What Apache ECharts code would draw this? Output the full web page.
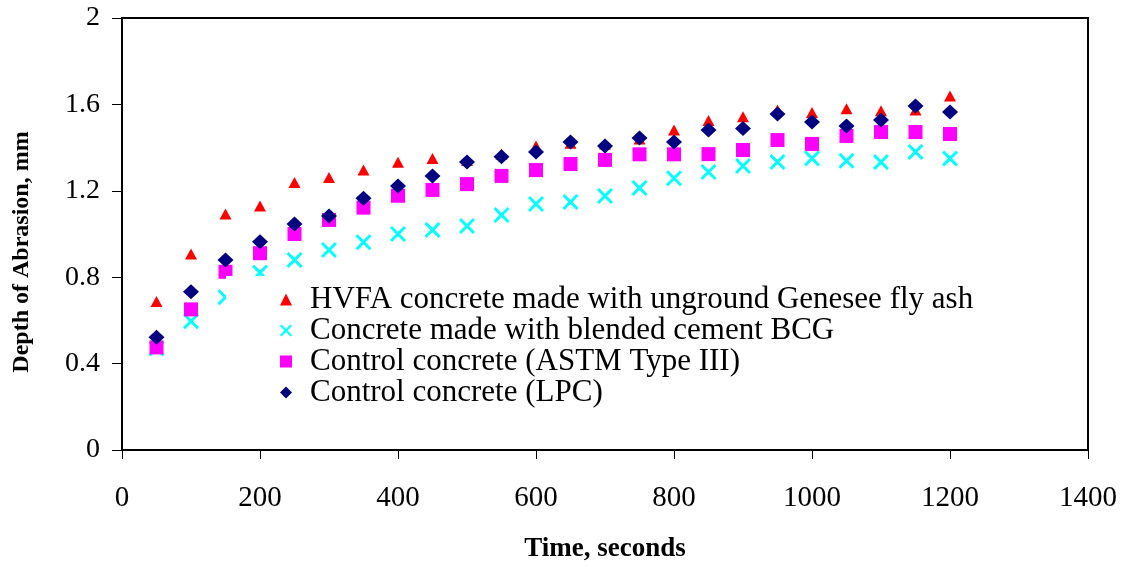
<!DOCTYPE html>
<html>
<head>
<meta charset="utf-8">
<script src="https://cdn.jsdelivr.net/npm/echarts@6/dist/echarts.min.js"></script>
<style>
  html, body { margin: 0; padding: 0; background: #fff; }
  #chart { width: 1128px; height: 567px; }
</style>
</head>
<body>
<div id="chart"></div>
<script>
// time (s)
const times = [50, 100, 150, 200, 250, 300, 350, 400, 450, 500, 550, 600,
               650, 700, 750, 800, 850, 900, 950, 1000, 1050, 1100, 1150, 1200];

// depth of abrasion, mm
const hvfa = [0.687, 0.907, 1.093, 1.130, 1.239, 1.261, 1.296, 1.332, 1.350, 1.340, 1.370, 1.407,
              1.420, 1.417, 1.440, 1.481, 1.525, 1.543, 1.574, 1.562, 1.580, 1.571, 1.574, 1.639];
const bcg = [0.470, 0.596, 0.707, 0.821, 0.880, 0.926, 0.962, 1.000, 1.019, 1.037, 1.088, 1.139,
             1.148, 1.176, 1.213, 1.258, 1.287, 1.315, 1.333, 1.350, 1.339, 1.333, 1.380, 1.349];
const astm3 = [0.475, 0.651, 0.825, 0.911, 1.000, 1.065, 1.122, 1.177, 1.204, 1.231, 1.269, 1.296,
               1.324, 1.343, 1.369, 1.369, 1.370, 1.389, 1.435, 1.417, 1.454, 1.472, 1.472, 1.463];
const lpc = [0.522, 0.733, 0.880, 0.964, 1.046, 1.083, 1.165, 1.222, 1.269, 1.333, 1.358, 1.380,
             1.426, 1.407, 1.444, 1.426, 1.481, 1.489, 1.556, 1.519, 1.500, 1.528, 1.593, 1.565];

const seriesNames = [
  'HVFA concrete made with unground Genesee fly ash',
  'Concrete made with blended cement BCG',
  'Control concrete (ASTM Type III)',
  'Control concrete (LPC)'
];

const pairs = ys => times.map((t, i) => [t, ys[i]]);
const crossPath = 'path://M0,1.3 L1.3,0 L5,3.7 L8.7,0 L10,1.3 L6.3,5 L10,8.7 L8.7,10 L5,6.3 L1.3,10 L0,8.7 L3.7,5 Z';
const serif = '"Liberation Serif", "Times New Roman", serif';

const chart = echarts.init(document.getElementById('chart'));

const option = {
  backgroundColor: '#fff',
  animation: false,
  grid: {
    left: 122, right: 40, top: 18, bottom: 117,
    outerBoundsMode: 'none',
    show: true, borderColor: '#000', borderWidth: 2
  },
  legend: {
    orient: 'vertical',
    left: 226, top: 276,
    padding: [8, 10, 6, 54],
    backgroundColor: '#fff',
    itemWidth: 12, itemHeight: 12, itemGap: 0,
    data: [
      { name: seriesNames[0], itemStyle: { color: '#ff0000' } },
      { name: seriesNames[1], itemStyle: { color: '#00ffff' } },
      { name: seriesNames[2], itemStyle: { color: '#ff00ff' } },
      { name: seriesNames[3], itemStyle: { color: '#000080' } }
    ],
    textStyle: { fontFamily: serif, fontSize: 31, color: '#000', padding: [0, 0, 0, 13] }
  },
  xAxis: {
    type: 'value', min: 0, max: 1400, interval: 200,
    name: 'Time, seconds', nameLocation: 'middle', nameGap: 86,
    nameTextStyle: { fontFamily: serif, fontSize: 27, fontWeight: 'bold', color: '#000' },
    axisLine: { show: true, lineStyle: { color: '#000', width: 2 } },
    axisTick: { show: true, length: 9, lineStyle: { color: '#000', width: 1 } },
    axisLabel: { margin: 34, fontFamily: serif, fontSize: 29, color: '#000',
                 formatter: v => String(v) },
    splitLine: { show: false }
  },
  yAxis: {
    type: 'value', min: 0, max: 2, interval: 0.4,
    name: 'Depth of Abrasion, mm', nameLocation: 'middle', nameGap: 88, nameRotate: 90,
    nameTextStyle: { fontFamily: serif, fontSize: 24, fontWeight: 'bold', color: '#000', padding: [0, 36, 0, 0] },
    axisLine: { show: true, lineStyle: { color: '#000', width: 2 } },
    axisTick: { show: true, length: 10, lineStyle: { color: '#000', width: 1 } },
    axisLabel: { margin: 22, fontFamily: serif, fontSize: 28, color: '#000',
                 formatter: v => String(Math.round(v * 10) / 10) },
    splitLine: { show: false }
  },
  series: [
    { name: seriesNames[0], type: 'scatter', data: pairs(hvfa),
      symbol: 'triangle', symbolSize: [12, 11], itemStyle: { color: '#ff0000', opacity: 1 } },
    { name: seriesNames[1], type: 'scatter', data: pairs(bcg),
      symbol: crossPath, symbolSize: 16, itemStyle: { color: '#00ffff', opacity: 1 } },
    { name: seriesNames[2], type: 'scatter', data: pairs(astm3),
      symbol: 'rect', symbolSize: 14, itemStyle: { color: '#ff00ff', opacity: 1 } },
    { name: seriesNames[3], type: 'scatter', data: pairs(lpc),
      symbol: 'diamond', symbolSize: [16, 15], itemStyle: { color: '#000080', opacity: 1 } }
  ]
};

chart.setOption(option);
</script>
</body>
</html>
